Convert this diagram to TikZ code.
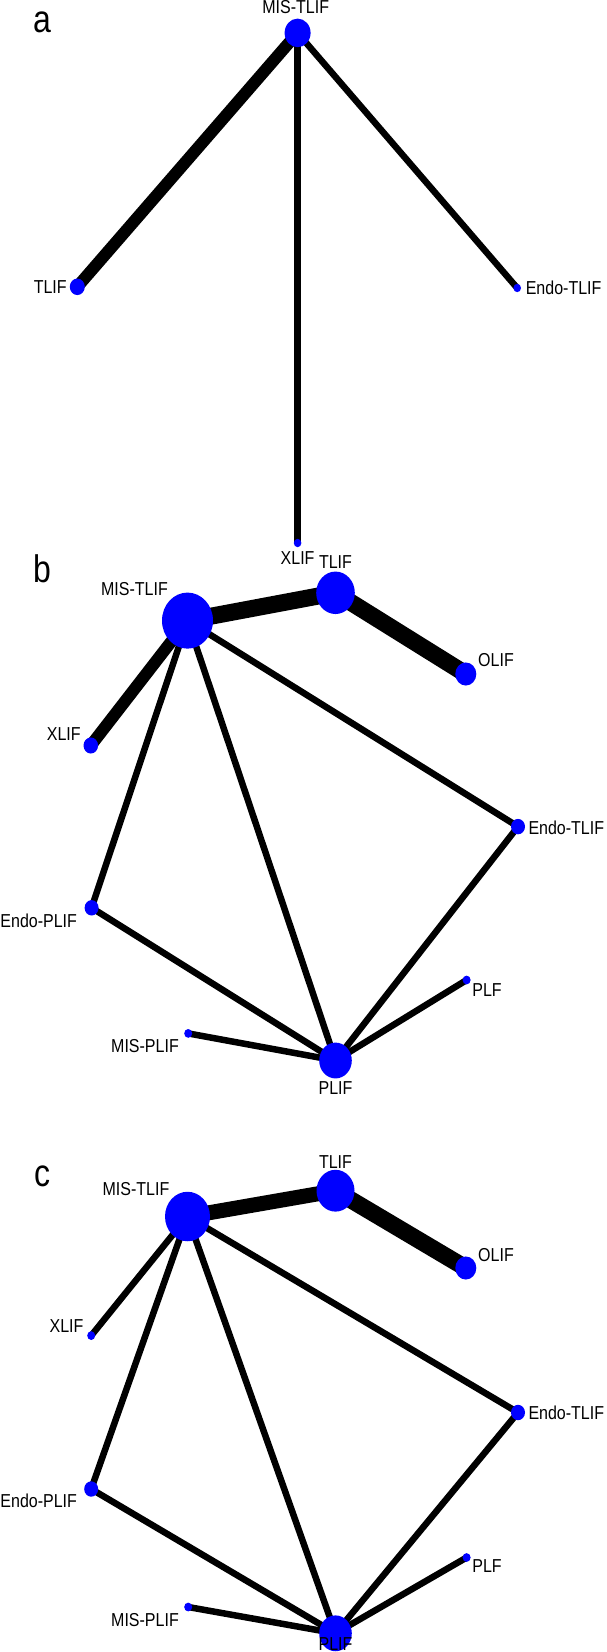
\documentclass[tikz,border=0pt]{standalone}
\usepackage{fontspec}
\setmainfont{Liberation Sans}
\usetikzlibrary{shapes.geometric,backgrounds}
\definecolor{nodeblue}{RGB}{0,0,255}
\newcommand{\lbl}[1]{\scalebox{1}[1.17]{\fontsize{16}{18}\selectfont #1}}
\newcommand{\pnl}[1]{\scalebox{1}[1.2]{\fontsize{32}{36}\selectfont #1}}
\tikzset{
  dot/.style={ellipse, fill=nodeblue, draw=none, inner sep=0pt,
    minimum width=2*#1, minimum height=2.2*#1},
  txt/.style={inner sep=0pt, text=black},
  edge/.style={draw=black, line width=#1},
}
\begin{document}
\begin{tikzpicture}[x=1pt,y=-1pt]
\useasboundingbox (0,0) rectangle (606,1652);
\begin{pgfonlayer}{background}
\fill[white] (0,0) rectangle (606,1652);
\end{pgfonlayer}
% ---------- panel a ----------
\node[txt] (la) at (42.5,22) {\pnl{a}};
\node[dot=13] (MTa) at (297.6,32.9) {};
\node[dot=7.5] (TLa) at (77.3,286.8) {};
\node[dot=3.8] (ETa) at (517.2,288) {};
\node[dot=3.8] (XLa) at (297.6,543) {};
\node[txt] (tMTa) at (295.7,7.5) {\lbl{MIS-TLIF}};
\node[txt] (tTLa) at (50.2,286.8) {\lbl{TLIF}};
\node[txt] (tETa) at (563.6,288) {\lbl{Endo-TLIF}};
\node[txt] (tXLa) at (297.6,557.8) {\lbl{XLIF}};
\begin{pgfonlayer}{background}
\draw[edge=12pt] (MTa.center) -- (TLa.center);
\draw[edge=6.5pt] (MTa.center) -- (XLa.center);
\draw[edge=6.5pt] (MTa.center) -- (ETa.center);
\end{pgfonlayer}
% ---------- panel b ----------
\node[txt] (lb) at (42.5,568.8) {\pnl{b}};
\node[dot=25.5] (MTb) at (187.5,620.6) {};
\node[dot=19.3] (TLb) at (335.5,592.8) {};
\node[dot=10.5] (OLb) at (465.8,674) {};
\node[dot=7.3] (XLb) at (90.8,745.5) {};
\node[dot=7] (ETb) at (518,826.6) {};
\node[dot=7] (EPb) at (91.6,907.8) {};
\node[dot=4] (PFb) at (466.6,980) {};
\node[dot=4] (MPb) at (188.2,1033.4) {};
\node[dot=16.3] (PLb) at (335.5,1060.5) {};
\node[txt] (tMTb) at (134.5,588.9) {\lbl{MIS-TLIF}};
\node[txt] (tTLb) at (335.5,561.8) {\lbl{TLIF}};
\node[txt] (tOLb) at (496,660.4) {\lbl{OLIF}};
\node[txt] (tXLb) at (63.8,733.9) {\lbl{XLIF}};
\node[txt] (tETb) at (566.3,827.8) {\lbl{Endo-TLIF}};
\node[txt] (tEPb) at (38.7,920.6) {\lbl{Endo-PLIF}};
\node[txt] (tPFb) at (487,990) {\lbl{PLF}};
\node[txt] (tMPb) at (145,1046.2) {\lbl{MIS-PLIF}};
\node[txt] (tPLb) at (335.5,1088.3) {\lbl{PLIF}};
\begin{pgfonlayer}{background}
\draw[edge=17pt] (MTb.center) -- (TLb.center);
\draw[edge=17pt] (TLb.center) -- (OLb.center);
\draw[edge=12pt] (MTb.center) -- (XLb.center);
\draw[edge=6.5pt] (MTb.center) -- (EPb.center);
\draw[edge=6.5pt] (MTb.center) -- (PLb.center);
\draw[edge=6.5pt] (MTb.center) -- (ETb.center);
\draw[edge=6.5pt] (EPb.center) -- (PLb.center);
\draw[edge=6.5pt] (ETb.center) -- (PLb.center);
\draw[edge=6.5pt] (PFb.center) -- (PLb.center);
\draw[edge=6.5pt] (MPb.center) -- (PLb.center);
\end{pgfonlayer}
% ---------- panel c ----------
\node[txt] (lc) at (42.5,1176) {\pnl{c}};
\node[dot=22.5] (MTc) at (187.5,1216.5) {};
\node[dot=19] (TLc) at (335.5,1190.7) {};
\node[dot=10.5] (OLc) at (465.8,1268) {};
\node[dot=4] (XLc) at (91.2,1335.6) {};
\node[dot=7] (ETc) at (518,1412.5) {};
\node[dot=7] (EPc) at (91.2,1489) {};
\node[dot=4] (PFc) at (466.6,1557.5) {};
\node[dot=4] (MPc) at (188.2,1607) {};
\node[dot=16.3] (PLc) at (335.5,1633.3) {};
\node[txt] (tMTc) at (136,1189.5) {\lbl{MIS-TLIF}};
\node[txt] (tTLc) at (335.5,1162.4) {\lbl{TLIF}};
\node[txt] (tOLc) at (496,1255.2) {\lbl{OLIF}};
\node[txt] (tXLc) at (66.5,1326) {\lbl{XLIF}};
\node[txt] (tETc) at (566.3,1412.5) {\lbl{Endo-TLIF}};
\node[txt] (tEPc) at (38.7,1500.7) {\lbl{Endo-PLIF}};
\node[txt] (tPFc) at (487,1566.4) {\lbl{PLF}};
\node[txt] (tMPc) at (145,1619.7) {\lbl{MIS-PLIF}};
\node[txt] (tPLc) at (335.5,1644.5) {\lbl{PLIF}};
\begin{pgfonlayer}{background}
\draw[edge=15pt] (MTc.center) -- (TLc.center);
\draw[edge=17pt] (TLc.center) -- (OLc.center);
\draw[edge=6.5pt] (MTc.center) -- (XLc.center);
\draw[edge=6.5pt] (MTc.center) -- (EPc.center);
\draw[edge=6.5pt] (MTc.center) -- (PLc.center);
\draw[edge=6.5pt] (MTc.center) -- (ETc.center);
\draw[edge=6.5pt] (EPc.center) -- (PLc.center);
\draw[edge=6.5pt] (ETc.center) -- (PLc.center);
\draw[edge=6.5pt] (PFc.center) -- (PLc.center);
\draw[edge=6.5pt] (MPc.center) -- (PLc.center);
\end{pgfonlayer}
\end{tikzpicture}
\end{document}
